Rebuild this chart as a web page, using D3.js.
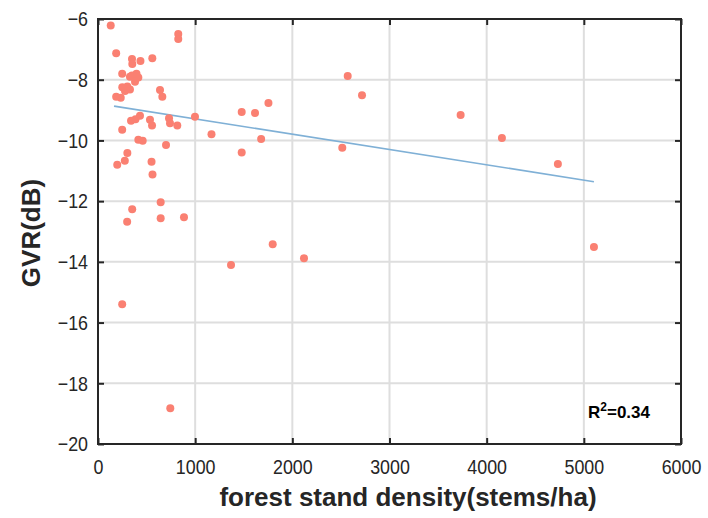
<!DOCTYPE html>
<html>
<head>
<meta charset="utf-8">
<script src="https://cdn.jsdelivr.net/npm/d3@7"></script>
<style>
    body { margin: 0; background: #fff; }
    .tick text { font-family: "Liberation Sans", Arial, sans-serif; font-size: 21px; fill: #262626; }
    .title { font-family: "Liberation Sans", Arial, sans-serif; font-weight: bold; font-size: 26px; fill: #262626; }
</style>
</head>
<body>
<svg id="chart" width="708" height="518"></svg>
<script>
'use strict';

// stand density (stems/ha) and GVR (dB)
let density = [131, 826, 826, 187, 350, 437, 559, 353, 249, 350, 396, 415, 329, 381, 250, 302,
               278, 329, 187, 234, 638, 662, 998, 1479, 1616, 1754, 1168, 1679, 1479, 700, 415, 460,
               249, 340, 386, 432, 535, 556, 731, 741, 816, 302, 276, 198, 551, 561, 645, 352,
               300, 645, 885, 249, 744, 1369, 1798, 2120, 2514, 2570, 2717, 3732, 4157, 4733, 5104];
let gvr = [-6.21, -6.49, -6.66, -7.13, -7.32, -7.38, -7.29, -7.48, -7.80, -7.86, -7.80, -7.93, -7.90, -8.07, -8.25, -8.22,
           -8.37, -8.32, -8.56, -8.59, -8.34, -8.56, -9.22, -9.06, -9.10, -8.77, -9.80, -9.95, -10.40, -10.15, -9.98, -10.01,
           -9.65, -9.35, -9.30, -9.19, -9.32, -9.51, -9.27, -9.43, -9.51, -10.41, -10.67, -10.80, -10.70, -11.12, -12.04, -12.27,
           -12.68, -12.56, -12.53, -15.40, -18.82, -14.10, -13.42, -13.88, -10.24, -7.88, -8.51, -9.16, -9.92, -10.78, -13.51];

// fitted line end points
let fitX = [165, 5104],
    fitY = [-8.87, -11.36];

let xTicks = [0, 1000, 2000, 3000, 4000, 5000, 6000],
    yTicks = [-20, -18, -16, -14, -12, -10, -8, -6];

let svg = d3.select("#chart");
let mLeft = 98, mRight = 681, mTop = 19, mBottom = 444;

let x = d3.scaleLinear().domain([0, 6000]).range([mLeft, mRight]);
let y = d3.scaleLinear().domain([-20, -6]).range([mBottom, mTop]);

// grid
let grid = svg.append("g").attr("class", "grid");
grid.selectAll("line.gx")
    .data(xTicks.slice(1, -1))
    .enter().append("line")
    .attr("x1", function(d) { return x(d); })
    .attr("x2", function(d) { return x(d); })
    .attr("y1", mTop).attr("y2", mBottom)
    .style("stroke", "#dedede").style("stroke-width", 2);
grid.selectAll("line.gy")
    .data(yTicks.slice(1, -1))
    .enter().append("line")
    .attr("y1", function(d) { return y(d); })
    .attr("y2", function(d) { return y(d); })
    .attr("x1", mLeft).attr("x2", mRight)
    .style("stroke", "#dedede").style("stroke-width", 2);

// fit line
svg.append("line")
    .attr("x1", x(fitX[0])).attr("y1", y(fitY[0]))
    .attr("x2", x(fitX[1])).attr("y2", y(fitY[1]))
    .style("stroke", "#7fb0d6").style("stroke-width", 1.6);

// points
svg.append("g").selectAll("circle")
    .data(density)
    .enter().append("circle")
    .attr("cx", function(d) { return x(d); })
    .attr("cy", function(d, i) { return y(gvr[i]); })
    .attr("r", 4)
    .attr("fill", "#fa8072");

// axes
let xAxis = svg.append("g")
    .attr("transform", "translate(0," + mBottom + ")")
    .call(d3.axisBottom(x).tickValues(xTicks).tickSizeInner(-6).tickSizeOuter(0).tickPadding(10)
        .tickFormat(d3.format("d")));
let yAxis = svg.append("g")
    .attr("transform", "translate(" + mLeft + ",0)")
    .call(d3.axisLeft(y).tickValues(yTicks).tickSizeInner(-6).tickSizeOuter(0).tickPadding(10)
        .tickFormat(function(d) { return d < 0 ? "\u2212" + Math.abs(d) : d; }));
let xTop = svg.append("g")
    .attr("transform", "translate(0," + mTop + ")")
    .call(d3.axisTop(x).tickValues(xTicks).tickSizeInner(-6).tickSizeOuter(0).tickFormat(""));
let yRight = svg.append("g")
    .attr("transform", "translate(" + mRight + ",0)")
    .call(d3.axisRight(y).tickValues(yTicks).tickSizeInner(-6).tickSizeOuter(0).tickFormat(""));

[xAxis, yAxis, xTop, yRight].forEach(function(a) {
    a.select(".domain").remove();
    a.selectAll(".tick line").style("stroke", "#262626").style("stroke-width", 2);
});
// narrow the tick labels a little, like the original font
xAxis.selectAll(".tick text").attr("dy", "0.95em").attr("transform", "scale(0.85,1)");
yAxis.selectAll(".tick text").attr("x", -10 / 0.85).attr("transform", "scale(0.85,1)");

// box
svg.append("rect")
    .attr("x", mLeft).attr("y", mTop)
    .attr("width", mRight - mLeft).attr("height", mBottom - mTop)
    .attr("fill", "none")
    .style("stroke", "#262626").style("stroke-width", 2);

// titles
svg.append("text")
    .attr("class", "title")
    .attr("x", 408).attr("y", 506)
    .attr("text-anchor", "middle")
    .text("forest stand density(stems/ha)");
svg.append("text")
    .attr("class", "title")
    .attr("transform", "translate(40," + 233 + ") rotate(-90)")
    .attr("text-anchor", "middle")
    .text("GVR(dB)");

// r squared
let r2 = svg.append("text")
    .attr("x", 588).attr("y", 418)
    .style("font-family", "Liberation Sans, Arial, sans-serif")
    .style("font-weight", "bold").style("font-size", "17px")
    .style("fill", "#000");
r2.append("tspan").text("R");
r2.append("tspan").attr("dy", -7).style("font-size", "12px").text("2");
r2.append("tspan").attr("dy", 7).text("=0.34");
</script>
</body>
</html>
